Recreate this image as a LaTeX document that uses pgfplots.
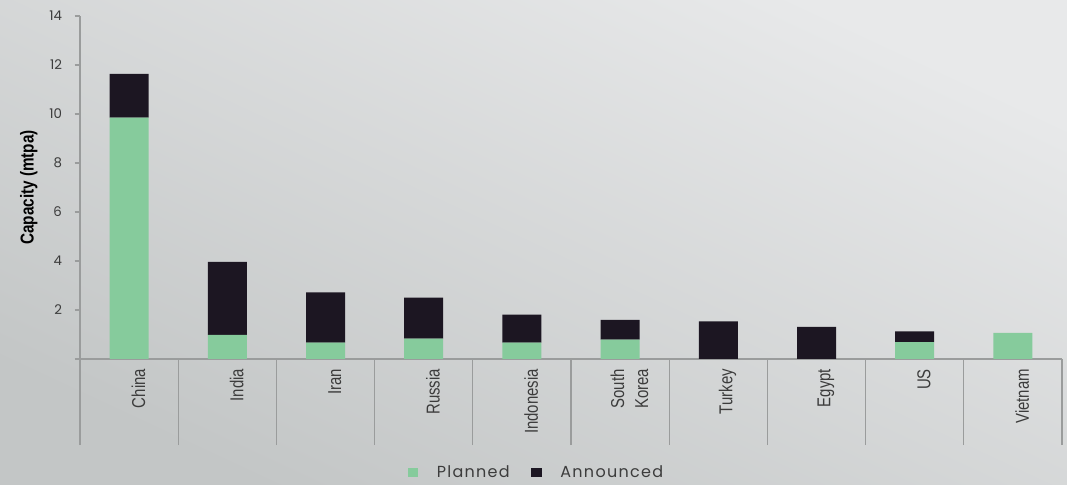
\documentclass[border=0pt]{standalone}
\usepackage{fontspec}
\setmainfont{Poppins}
\newfontfamily\labfont{Liberation Sans}[FakeStretch=0.8]
\newfontfamily\titfont{Liberation Sans}[FakeStretch=0.82]
\newfontfamily\legfont{Poppins}[LetterSpace=8]
\usepackage{pgfplots}
\pgfplotsset{compat=1.18}

\definecolor{planned}{HTML}{86CB9C}
\definecolor{announced}{HTML}{1C1622}
\definecolor{bgtop}{HTML}{E8E9EA}
\definecolor{bgbot}{HTML}{C3C6C6}
\definecolor{axgray}{HTML}{9A9C9C}
\definecolor{txt}{HTML}{3C3C3C}

\begin{document}
\begin{tikzpicture}
\useasboundingbox (0,0) rectangle (800.25pt,363.75pt);
\shade[shading=axis, bottom color=bgbot, top color=bgtop, shading angle=-25]
  (0,0) rectangle (800.25pt,363.75pt);
\begin{axis}[
  at={(60pt,94.5pt)}, anchor=south west,
  scale only axis,
  width=736.5pt, height=257.25pt,
  ybar stacked,
  bar width=29.25pt,
  xmin=-0.5, xmax=9.5,
  ymin=0, ymax=14,
  axis lines*=left,
  axis line style={axgray, line width=0.8pt},
  xtick={0,...,9},
  xticklabels={China,India,Iran,Russia,Indonesia,{South\\Korea},Turkey,Egypt,US,Vietnam},
  major x tick style={draw=none},
  minor xtick={-0.5,0.5,...,9.5},
  minor tick length=64.5pt,
  minor x tick style={axgray, line width=0.8pt},
  tick align=outside,
  xticklabel style={rotate=90, anchor=east, align=center,
    font=\labfont\fontsize{14}{18}\selectfont, text=txt, yshift=-7pt},
  ytick={0,2,...,14},
  yticklabels={,2,4,6,8,10,12,14},
  major y tick style={axgray, line width=0.8pt},
  major tick length=4pt,
  yticklabel style={font=\fontsize{10}{12}\selectfont, text=txt, xshift=-6pt},
  /pgf/number format/assume math mode=true,
  ylabel={Capacity (mtpa)},
  ylabel style={font=\titfont\bfseries\fontsize{14}{16}\selectfont, text=black, yshift=2pt},
  legend columns=2,
  legend style={at={(0.465,-0.33)}, anchor=center, draw=none, fill=none,
    font=\legfont\fontsize{12}{13}\selectfont, text=txt,
    /tikz/every odd column/.append style={column sep=12pt},
    /tikz/every even column/.append style={column sep=14pt}},
  legend image code/.code={\fill[#1] (0pt,-3.5pt) rectangle (8pt,3.5pt);},
]
\addplot[fill=planned, draw=none] coordinates {
  (0,9.85) (1,0.98) (2,0.67) (3,0.83) (4,0.67) (5,0.79) (6,0) (7,0) (8,0.69) (9,1.07)
};
\addplot[fill=announced, draw=none] coordinates {
  (0,1.79) (1,2.98) (2,2.05) (3,1.67) (4,1.14) (5,0.81) (6,1.54) (7,1.31) (8,0.44) (9,0)
};
\legend{Planned,Announced}
\end{axis}
\end{tikzpicture}
\end{document}
